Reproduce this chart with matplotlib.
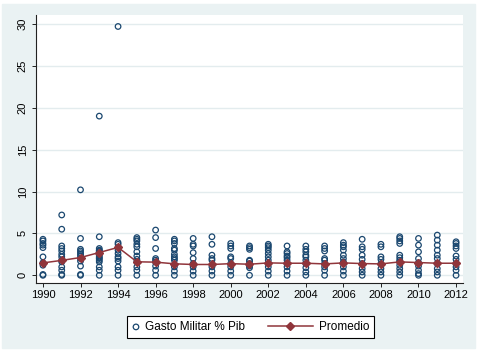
import numpy as np
import matplotlib
matplotlib.use("Agg")
import matplotlib.pyplot as plt
from matplotlib.patches import Rectangle
from matplotlib.legend_handler import HandlerLine2D

plt.rcParams['font.family'] = ['Liberation Sans', 'DejaVu Sans']

# data
years = list(range(1990, 2013))
gasto = [
    [4.3, 4.1, 3.8, 3.6, 3.3, 2.2, 1.5, 1.2, 0.1, 0.0],
    [7.2, 5.5, 3.5, 3.2, 2.9, 2.5, 2.2, 1.8, 1.6, 1.0, 0.6, 0.1, 0.0],
    [10.2, 4.4, 3.1, 2.9, 2.7, 2.5, 2.3, 2.0, 1.7, 1.1, 0.1, 0.0],
    [19.0, 4.6, 3.2, 3.0, 2.9, 2.8, 2.5, 2.3, 2.1, 2.0, 1.8, 1.6, 1.0, 0.6, 0.0],
    [29.7, 3.9, 3.7, 3.0, 2.6, 2.2, 2.0, 1.7, 1.0, 0.6, 0.0],
    [4.5, 4.3, 4.1, 3.7, 3.4, 2.8, 2.3, 1.9, 1.6, 1.0, 0.6, 0.0],
    [5.4, 4.5, 3.2, 2.0, 1.8, 1.6, 1.1, 0.6, 0.0],
    [4.3, 4.1, 3.8, 3.2, 3.0, 2.5, 2.2, 2.0, 1.8, 1.0, 0.5, 0.0],
    [4.4, 3.7, 3.5, 2.7, 2.0, 1.4, 1.0, 0.5, 0.0],
    [4.6, 3.7, 2.4, 2.0, 1.8, 1.0, 0.5, 0.0],
    [3.8, 3.5, 3.2, 2.2, 2.0, 1.4, 1.0, 0.5, 0.0],
    [3.5, 3.3, 3.1, 1.8, 1.7, 1.4, 1.1, 0.9, 0.0],
    [3.7, 3.5, 3.3, 3.0, 2.6, 2.2, 1.8, 1.4, 1.0, 0.5, 0.0],
    [3.5, 2.8, 2.6, 2.3, 2.1, 1.8, 1.4, 1.0, 0.5, 0.0],
    [3.5, 3.1, 2.8, 2.4, 2.2, 1.8, 1.4, 0.9, 0.4, 0.0],
    [3.5, 3.2, 2.9, 2.0, 1.8, 1.4, 1.0, 0.6, 0.0],
    [3.9, 3.6, 3.4, 3.0, 2.4, 2.0, 1.6, 1.0, 0.5, 0.0],
    [4.3, 3.4, 3.1, 2.4, 1.9, 1.4, 0.8, 0.4, 0.0],
    [3.7, 3.4, 2.2, 1.9, 1.4, 0.8, 0.4, 0.0],
    [4.6, 4.4, 4.1, 3.8, 2.4, 2.1, 1.8, 1.6, 1.2, 0.8, 0.4, 0.0],
    [4.4, 3.6, 2.8, 2.0, 1.5, 1.1, 0.6, 0.2, 0.0],
    [4.8, 4.2, 3.6, 3.0, 2.4, 2.0, 1.4, 0.8, 0.4, 0.0],
    [4.0, 3.8, 3.5, 3.2, 2.3, 1.9, 1.4, 1.0, 0.6, 0.0],
]
promedio = [1.48, 1.78, 2.12, 2.72, 3.33, 1.61, 1.57, 1.37, 1.29, 1.29, 1.39, 1.32,
            1.48, 1.44, 1.44, 1.36, 1.48, 1.40, 1.36, 1.60, 1.52, 1.44, 1.44]

bg = '#eaf2f3'
navy = '#1a476f'
maroon = '#90353b'


class LongLine(HandlerLine2D):
    # stretch the line handle to the left so only this entry looks long
    def create_artists(self, legend, orig_handle, xdescent, ydescent,
                       width, height, fontsize, trans):
        extra = 3.2 * fontsize
        return super().create_artists(legend, orig_handle, xdescent + extra,
                                      ydescent, width + extra, height,
                                      fontsize, trans)


fig = plt.figure(figsize=(4.83, 3.54), dpi=100, facecolor='white')
fig.patches.append(Rectangle((2 / 483, 6 / 354), 473 / 483, 344 / 354,
                             transform=fig.transFigure, color=bg, zorder=-1))
ax = fig.add_axes([36 / 483, 71 / 354, 427 / 483, 268 / 354])
ax.set_facecolor('white')

# scatter of every country
xs = np.concatenate([[y] * len(g) for y, g in zip(years, gasto)])
ys = np.concatenate(gasto)
sc = ax.scatter(xs, ys, s=16, facecolors='none', edgecolors=navy,
                linewidths=0.9, zorder=3, label='Gasto Militar % Pib')

# yearly average
ln, = ax.plot(years, promedio, color=maroon, lw=1.1, marker='D', ms=4.5,
              mfc=maroon, mec=maroon, zorder=4, label='Promedio')

ax.set_xlim(1989.63, 2012.37)
ax.set_ylim(-0.92, 31.07)
ax.set_xticks(range(1990, 2013, 2))
ax.set_yticks(range(0, 31, 5))
ax.yaxis.grid(True, color='#e3ecee', lw=1.0)
ax.set_axisbelow(True)
for s in ['top', 'right']:
    ax.spines[s].set_visible(False)
for s in ['left', 'bottom']:
    ax.spines[s].set_color('#222222')
    ax.spines[s].set_linewidth(0.8)
ax.tick_params(axis='both', labelsize=8, length=3, width=0.7,
               color='#222222', direction='out')
ax.tick_params(axis='x', pad=2)
ax.tick_params(axis='y', pad=3)
for lab in ax.get_yticklabels():
    lab.set_rotation(90)
    lab.set_va('center')

leg = ax.legend(handles=[sc, ln], loc='upper center',
                bbox_to_anchor=(0.503, -0.1), ncol=2, fontsize=8.5,
                frameon=True, fancybox=False, framealpha=1, edgecolor='black',
                handlelength=0.6, handletextpad=0.5, columnspacing=5.1,
                borderpad=0.45, scatterpoints=1, numpoints=1,
                handler_map={ln: LongLine()})
leg.get_frame().set_linewidth(0.8)

fig.savefig('out.png', dpi=100, facecolor=fig.get_facecolor())
